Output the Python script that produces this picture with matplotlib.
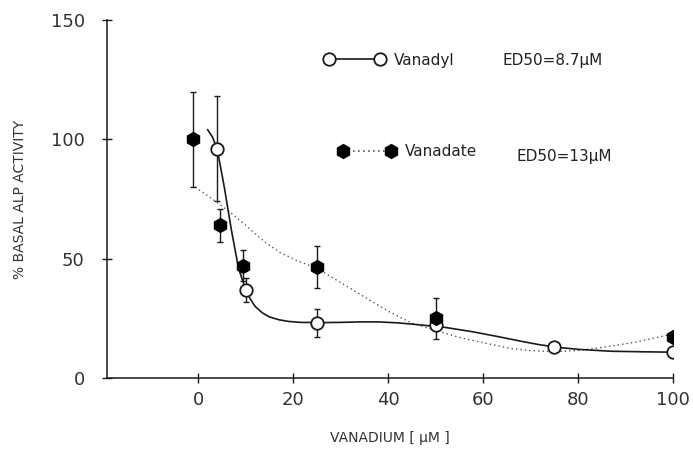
import matplotlib
matplotlib.use("Agg")
import matplotlib.pyplot as plt
from matplotlib.lines import Line2D

# measured points (x in uM, y in % basal ALP activity)
vanadyl_x = [4, 10, 25, 50, 75, 100]
vanadyl_y = [96, 37, 23, 22, 13, 11]
vanadyl_err = [22, 5, 6, 0, 0, 0]

vanadate_x = [-1, 4.5, 9.5, 25, 50, 100]
vanadate_y = [100, 64, 47, 46.5, 25, 17]
vanadate_err = [20, 7, 6.5, 9, 8.5, 0]

# fitted curves
vanadyl_fit_x = [2, 3, 4, 5.5, 7, 8.5, 10, 11, 12, 13.5, 15, 17, 19, 21.5, 26, 30, 34, 38,
                 42, 46, 52, 58, 63, 68, 72, 76, 80, 87, 93, 100]
vanadyl_fit_y = [104, 101, 96, 80, 62, 46, 37, 33, 30, 27.3, 25.6, 24.4, 23.7, 23.3, 23.2, 23.3,
                 23.5, 23.5, 23.1, 22.4, 21.2, 19.3, 17.4, 15.4, 13.9, 12.8, 12.0, 11.2, 11.0, 10.8]
vanadate_fit_x = [-0.6, 3, 6.7, 10, 14, 17.3, 21, 25, 30, 35, 40, 45, 50, 55, 60, 66, 70, 75,
                  80, 84, 88, 92, 96, 100]
vanadate_fit_y = [80, 75, 69.5, 64, 57, 52.5, 49, 46, 40, 34, 28, 23, 20, 17, 14.8, 12.3, 11.5,
                  11, 11.5, 12.5, 13.7, 15, 16.7, 18.5]

xticks = [0, 20, 40, 60, 80, 100]
yticks = [0, 50, 100, 150]

ink = '#1a1a1a'
fig = plt.figure(figsize=(6.93, 4.58), dpi=100)
ax = fig.add_axes([0.1544, 0.1747, 0.8167, 0.7817])

ax.plot(vanadate_fit_x, vanadate_fit_y, color='#555555', lw=1.0, ls=(0, (1, 2.2)), zorder=1)
ax.plot(vanadyl_fit_x, vanadyl_fit_y, color=ink, lw=1.2, zorder=1)

ax.errorbar(vanadyl_x, vanadyl_y, yerr=vanadyl_err, fmt='none', ecolor=ink,
            elinewidth=1.0, capsize=2.5, capthick=1.0, zorder=2)
ax.errorbar(vanadate_x, vanadate_y, yerr=vanadate_err, fmt='none', ecolor=ink,
            elinewidth=1.0, capsize=2.5, capthick=1.0, zorder=2)
ax.plot(vanadyl_x, vanadyl_y, 'o', ms=9, mfc='white', mec=ink, mew=1.3, zorder=3)
ax.plot(vanadate_x, vanadate_y, 'h', ms=10, mfc='black', mec='black', zorder=4)

ax.set_xlim(-19.2, 100)
ax.set_ylim(0, 150)
ax.set_xticks(xticks)
ax.set_yticks(yticks)
for s in ['top', 'right']:
    ax.spines[s].set_visible(False)
for s in ['left', 'bottom']:
    ax.spines[s].set_color(ink)
    ax.spines[s].set_linewidth(1.1)
ax.tick_params(direction='inout', length=7, width=1.0, color=ink,
               labelsize=13, labelcolor='#333333')
ax.tick_params(axis='x', pad=6)
ax.tick_params(axis='y', pad=12.5)
ax.set_ylabel('% BASAL ALP ACTIVITY', fontsize=10, color='#333333', labelpad=17)
ax.set_xlabel('VANADIUM [ \u03bcM ]', fontsize=10, color='#333333', labelpad=16)

h1 = Line2D([], [], color=ink, lw=1.2, marker='o', ms=9, mfc='white', mec=ink, mew=1.3)
h2 = Line2D([], [], color='#555555', lw=1.2, ls=(0, (1, 2)), marker='h', ms=10,
            mfc='black', mec='black')
leg1 = fig.legend([h1], ['Vanadyl'], numpoints=2, frameon=False, fontsize=11,
                  handlelength=3.9, handletextpad=0.6, borderpad=0,
                  loc='center left', bbox_to_anchor=(317 / 693, 1 - 60 / 458))
leg2 = fig.legend([h2], ['Vanadate'], numpoints=2, frameon=False, fontsize=11,
                  handlelength=3.7, handletextpad=0.65, borderpad=0,
                  loc='center left', bbox_to_anchor=(331 / 693, 1 - 152 / 458))
for leg in (leg1, leg2):
    for t in leg.get_texts():
        t.set_color('#222222')
fig.text(503 / 693, 1 - 60 / 458, 'ED50=8.7\u03bcM', fontsize=11, color='#222222', va='center')
fig.text(517 / 693, 1 - 156 / 458, 'ED50=13\u03bcM', fontsize=11, color='#222222', va='center')

fig.savefig('out.png', dpi=100)
